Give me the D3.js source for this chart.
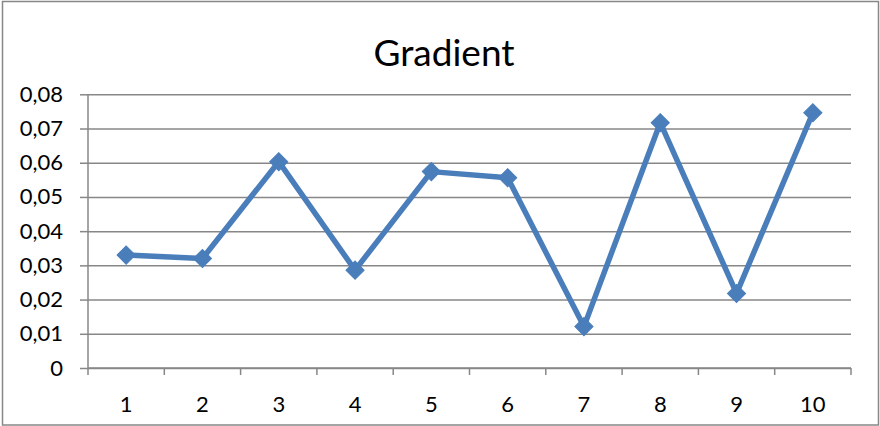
<!DOCTYPE html>
<html>
<head>
<meta charset="utf-8">
<script src="https://cdn.jsdelivr.net/npm/d3@7"></script>
<style>
  html, body { margin: 0; padding: 0; background: #fff; }
  svg { display: block; font-family: Lato, "Open Sans", sans-serif; }
</style>
</head>
<body>
<svg id="chart" width="880" height="426"></svg>
<script>
// Gradient per step
const categories = ["1", "2", "3", "4", "5", "6", "7", "8", "9", "10"];
const gradient = [0.0330, 0.0320, 0.0603, 0.0286, 0.0574, 0.0556, 0.0121, 0.0717, 0.0218, 0.0746];
const yTicks = [0, 0.01, 0.02, 0.03, 0.04, 0.05, 0.06, 0.07, 0.08];
const title = "Gradient";

const svg = d3.select("#chart");
const gray = "#878787";
const blue = "#4a7ebb";
const labelFont = "Lato, 'Open Sans', sans-serif";

const plot = { left: 88, right: 851, top: 94.3, bottom: 368 };

const x = d3.scaleBand().domain(categories).range([plot.left, plot.right]).padding(0);
const y = d3.scaleLinear().domain([0, 0.08]).range([plot.bottom, plot.top]);

const locale = d3.formatLocale({ decimal: ",", thousands: ".", grouping: [3], currency: ["", ""] });
const fmt = locale.format(".2f");
const tickLabel = d => d === 0 ? "0" : fmt(d);

// chart frame
svg.append("rect")
  .attr("x", 2.5).attr("y", 1.5)
  .attr("width", 876).attr("height", 423.5)
  .attr("fill", "none").attr("stroke", gray).attr("stroke-width", 1.5);

// title
svg.append("text")
  .attr("x", 444).attr("y", 66)
  .attr("text-anchor", "middle")
  .attr("font-size", 37)
  .attr("fill", "#000")
  .text(title);

// horizontal gridlines
const grid = svg.append("g")
  .attr("transform", `translate(${plot.left},0)`)
  .call(d3.axisLeft(y).tickValues(yTicks).tickSize(-(plot.right - plot.left)).tickFormat(""));
grid.select(".domain").remove();
grid.selectAll("line").attr("stroke", gray).attr("stroke-width", 1.5);

// y axis with outer ticks and labels
const yAxis = svg.append("g")
  .attr("transform", `translate(${plot.left},0)`)
  .call(d3.axisLeft(y).tickValues(yTicks).tickSize(8).tickPadding(17).tickFormat(tickLabel));
yAxis.select(".domain").attr("stroke", gray).attr("stroke-width", 1.5).attr("d", `M0,${plot.top}V${plot.bottom}`);
yAxis.selectAll("line").attr("stroke", gray).attr("stroke-width", 1.5);
yAxis.selectAll("text").attr("font-size", 22).attr("fill", "#000").attr("font-family", labelFont);

// x axis: labels centered in each category, ticks at category boundaries
const xAxis = svg.append("g")
  .attr("transform", `translate(0,${plot.bottom})`)
  .call(d3.axisBottom(x).tickSize(0).tickPadding(28));
xAxis.select(".domain").attr("stroke", gray).attr("stroke-width", 1.5).attr("d", `M${plot.left},0H${plot.right}`);
xAxis.selectAll("text").attr("font-size", 22).attr("fill", "#000").attr("font-family", labelFont);

const bounds = categories.map(c => x(c)).concat([x.range()[1]]);
xAxis.selectAll("line.bound")
  .data(bounds)
  .join("line")
  .attr("class", "bound")
  .attr("x1", d => d).attr("x2", d => d)
  .attr("y1", 0).attr("y2", 7)
  .attr("stroke", gray).attr("stroke-width", 1.5);

// series line
const cx = c => x(c) + x.bandwidth() / 2;
const line = d3.line()
  .x((d, i) => cx(categories[i]))
  .y(d => y(d));

svg.append("path")
  .datum(gradient)
  .attr("d", line)
  .attr("fill", "none")
  .attr("stroke", blue)
  .attr("stroke-width", 5.5)
  .attr("stroke-linejoin", "round");

// diamond markers
const diamond = d3.symbol().type(d3.symbolSquare).size(165);
svg.append("g")
  .selectAll("path")
  .data(gradient)
  .join("path")
  .attr("d", diamond)
  .attr("transform", (d, i) => `translate(${cx(categories[i])},${y(d)}) rotate(45)`)
  .attr("fill", blue)
  .attr("stroke", blue)
  .attr("stroke-width", 1);
</script>
</body>
</html>
